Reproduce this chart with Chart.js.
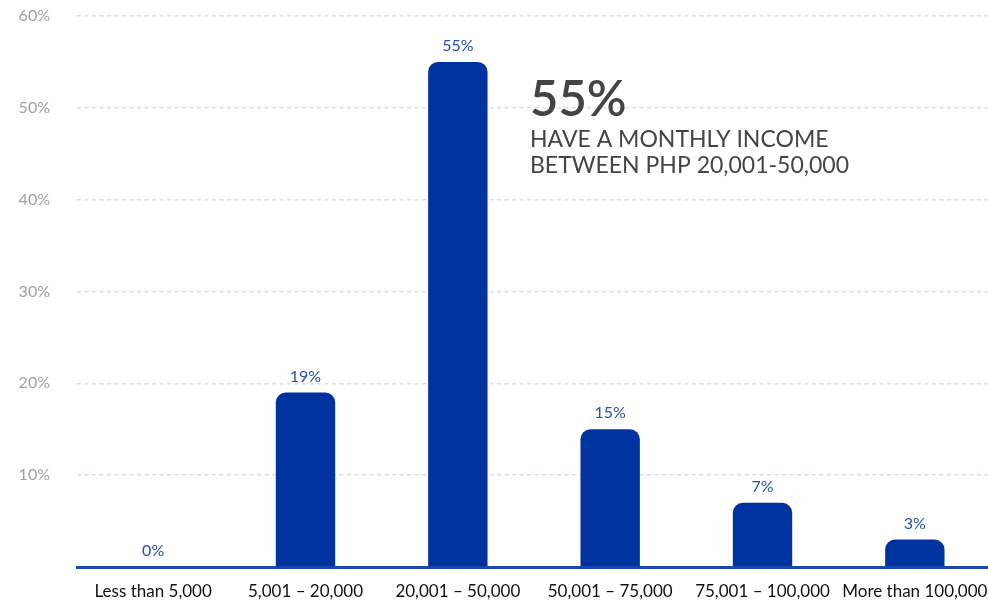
<!DOCTYPE html>
<html>
<head>
<meta charset="utf-8">
<script src="https://cdn.jsdelivr.net/npm/chart.js@4"></script>
<style>
  html, body { margin: 0; padding: 0; background: #fff; overflow: hidden; }
  #wrap { width: 991px; height: 600px; }
</style>
</head>
<body>
<div id="wrap"><canvas id="grafico"></canvas></div>
<script>
// datos del gráfico
const categorias = ['Less than 5,000', '5,001 – 20,000', '20,001 – 50,000', '50,001 – 75,000', '75,001 – 100,000', 'More than 100,000'];
const porcentajes = [0, 19, 55, 15, 7, 3];
const ticksY = [0, 10, 20, 30, 40, 50, 60];
const destacado = '55%';
const destacadoTexto = ['HAVE A MONTHLY INCOME', 'BETWEEN PHP 20,001-50,000'];

const AZUL = '#0033a0';
const FUENTE = 'Lato, "Open Sans", sans-serif';

// etiquetas encima de cada barra
const etiquetasBarras = {
  id: 'etiquetasBarras',
  afterDatasetsDraw(chart) {
    const ctx = chart.ctx;
    const meta = chart.getDatasetMeta(0);
    ctx.save();
    ctx.fillStyle = '#2a4db3';
    ctx.font = '16px ' + FUENTE;
    ctx.textAlign = 'center';
    ctx.textBaseline = 'bottom';
    meta.data.forEach((bar, i) => {
      ctx.fillText(porcentajes[i] + '%', bar.x, bar.y - 8);
    });
    ctx.restore();
  }
};

// texto destacado a la derecha de la barra mayor
const textoDestacado = {
  id: 'textoDestacado',
  afterDraw(chart) {
    const ctx = chart.ctx;
    const x = 530;
    ctx.save();
    ctx.fillStyle = '#444444';
    ctx.textAlign = 'left';
    ctx.textBaseline = 'alphabetic';
    ctx.font = '600 49px ' + FUENTE;
    ctx.fillText(destacado, x, 116);
    ctx.font = '23px ' + FUENTE;
    ctx.fillText(destacadoTexto[0], x, 147);
    ctx.fillText(destacadoTexto[1], x, 173);
    ctx.restore();
  }
};

new Chart(document.getElementById('grafico'), {
  type: 'bar',
  data: {
    labels: categorias,
    datasets: [{
      data: porcentajes,
      backgroundColor: AZUL,
      borderRadius: { topLeft: 10, topRight: 10, bottomLeft: 0, bottomRight: 0 },
      borderSkipped: 'bottom',
      categoryPercentage: 1,
      barPercentage: 0.39
    }]
  },
  options: {
    responsive: true,
    maintainAspectRatio: false,
    animation: false,
    layout: { autoPadding: false, padding: { top: 16, right: 0, left: 0, bottom: 0 } },
    plugins: { legend: { display: false }, tooltip: { enabled: false } },
    scales: {
      x: {
        grid: { display: false, drawTicks: false },
        border: { display: true, color: '#1d4aaa', width: 3 },
        ticks: { color: '#111', font: { family: FUENTE, size: 17 }, padding: 14, maxRotation: 0, autoSkip: false },
        afterFit: s => { s.height = 33; s.paddingLeft = 0; s.paddingRight = 0; }
      },
      y: {
        min: ticksY[0],
        max: ticksY[ticksY.length - 1],
        afterBuildTicks: s => { s.ticks = ticksY.map(v => ({ value: v })); },
        grid: {
          color: c => c.tick.value === 0 ? 'rgba(0,0,0,0)' : '#d9def2',
          lineWidth: 1.5,
          drawTicks: false
        },
        border: { display: false, dash: [4, 3.5] },
        ticks: {
          color: '#a0a0a0',
          font: { family: FUENTE, size: 16 },
          padding: 27,
          callback: v => v === 0 ? '' : v + '%'
        },
        afterFit: s => { s.width = 77; s.paddingTop = 0; s.paddingBottom = 0; }
      }
    }
  },
  plugins: [etiquetasBarras, textoDestacado]
});
</script>
</body>
</html>
